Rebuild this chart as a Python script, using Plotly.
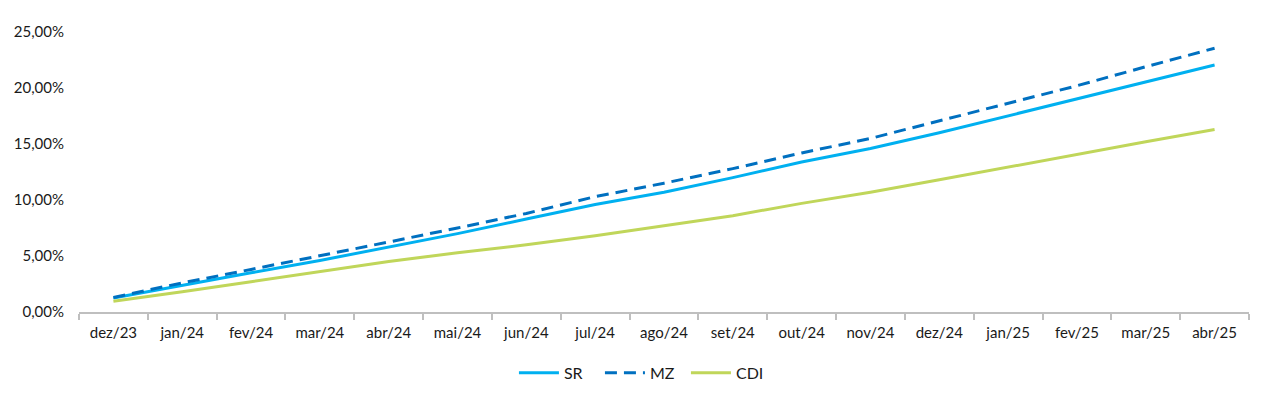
import plotly.graph_objects as go

months = ["dez/23", "jan/24", "fev/24", "mar/24", "abr/24", "mai/24", "jun/24", "jul/24",
          "ago/24", "set/24", "out/24", "nov/24", "dez/24", "jan/25", "fev/25", "mar/25", "abr/25"]
sr = [1.25, 2.4, 3.5, 4.6, 5.8, 7.0, 8.3, 9.6, 10.7, 12.0, 13.4, 14.6, 16.0, 17.5, 19.05, 20.5, 22.05]
mz = [1.3, 2.6, 3.8, 5.0, 6.25, 7.5, 8.8, 10.3, 11.5, 12.8, 14.2, 15.5, 17.05, 18.6, 20.2, 21.9, 23.55]
cdi = [0.97, 1.8, 2.7, 3.6, 4.5, 5.3, 6.0, 6.8, 7.7, 8.6, 9.7, 10.7, 11.8, 12.95, 14.1, 15.2, 16.3]
y_ticks = [0, 5, 10, 15, 20, 25]
y_labels = [f"{v:.2f}%".replace(".", ",") for v in y_ticks]

fig = go.Figure()
fig.add_trace(go.Scatter(x=months, y=sr, name="SR", mode="lines",
                         line=dict(color="#00b0f0", width=3)))
fig.add_trace(go.Scatter(x=months, y=mz, name="MZ", mode="lines",
                         line=dict(color="#0070c0", width=3, dash="12px,7px")))
fig.add_trace(go.Scatter(x=months, y=cdi, name="CDI", mode="lines",
                         line=dict(color="#c0d65a", width=3)))

font_family = "Lato, 'Open Sans', sans-serif"
fig.update_layout(
    width=1260, height=380,
    margin=dict(l=71, r=19, t=24, b=76, autoexpand=False),
    paper_bgcolor="white", plot_bgcolor="white",
    font=dict(family=font_family, size=15, color="#1a1a1a"),
    showlegend=True,
    legend=dict(orientation="h", x=0.482, xanchor="center", y=-0.157, yanchor="top",
                font=dict(size=16), itemwidth=40, entrywidth=31, traceorder="normal"),
    xaxis=dict(type="category", range=[-0.5, 16.5], tickson="boundaries",
               showgrid=False, showline=True, linecolor="#bfbfbf", linewidth=1.5,
               ticks="outside", ticklen=6, tickcolor="#bfbfbf", tickwidth=1.5,
               ticklabelstandoff=6, zeroline=False, automargin=False),
    yaxis=dict(range=[0, 25], tickvals=y_ticks, ticktext=y_labels,
               showgrid=False, showline=False, zeroline=False,
               ticklabelstandoff=14, automargin=False),
)

fig.write_html("out.html")
